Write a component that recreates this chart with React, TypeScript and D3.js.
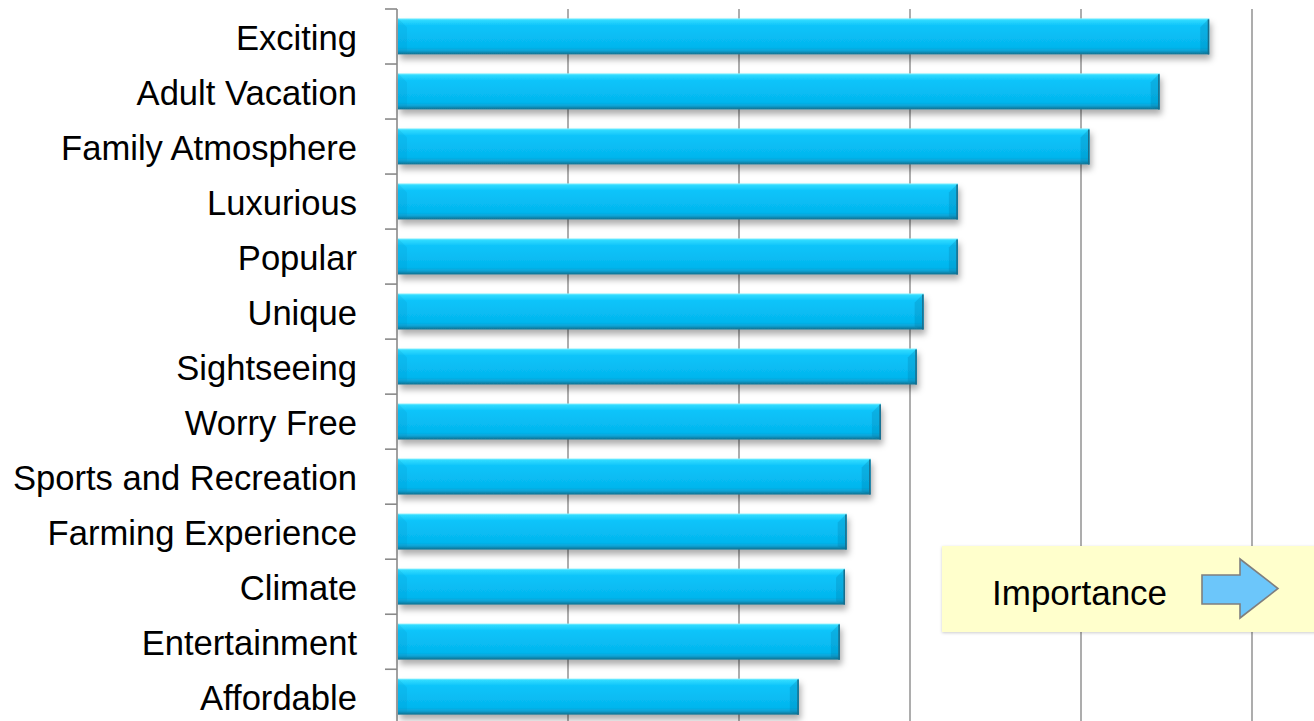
import React from "react";
import * as d3 from "d3";

const categories = [
  "Exciting",
  "Adult Vacation",
  "Family Atmosphere",
  "Luxurious",
  "Popular",
  "Unique",
  "Sightseeing",
  "Worry Free",
  "Sports and Recreation",
  "Farming Experience",
  "Climate",
  "Entertainment",
  "Affordable",
];
const values = [4.75, 4.46, 4.05, 3.28, 3.28, 3.08, 3.04, 2.83, 2.77, 2.63, 2.62, 2.59, 2.35];
const xTicks = [0, 1, 2, 3, 4, 5];
const boxLabel = "Importance";

const W = 1314;
const H = 721;

export default function App() {
  const x = d3.scaleLinear().domain([0, 5]).range([397, 1252]);
  const y = d3.scaleBand<string>().domain(categories).range([9, 724]).paddingInner(0.345).paddingOuter(0.17);
  const bandStep = y.step();
  const bw = y.bandwidth();
  const font = "'Liberation Sans', Arial, sans-serif";

  return (
    <svg width={W} height={H} style={{ position: "absolute", left: 0, top: 0, background: "#fff" }}>
      <defs>
        <linearGradient id="barGrad" x1="0" y1="0" x2="0" y2="1">
          <stop offset="0%" stopColor="#8AF2FF" />
          <stop offset="5%" stopColor="#30DAFF" />
          <stop offset="20%" stopColor="#0CC4FA" />
          <stop offset="80%" stopColor="#04B6EE" />
          <stop offset="90%" stopColor="#0AA2D4" />
          <stop offset="100%" stopColor="#146E8C" />
        </linearGradient>
        <filter id="shadow" x="-5%" y="-30%" width="110%" height="170%">
          <feDropShadow dx="2" dy="5" stdDeviation="3" floodColor="#000" floodOpacity="0.32" />
        </filter>
        <filter id="boxShadow" x="-5%" y="-10%" width="110%" height="130%">
          <feDropShadow dx="0" dy="1" stdDeviation="1.5" floodColor="#000" floodOpacity="0.2" />
        </filter>
      </defs>

      {/* gridlines */}
      {xTicks.slice(1).map((t) => (
        <line key={t} x1={x(t)} x2={x(t)} y1={9} y2={H} stroke="#8A8A8A" strokeWidth={1.4} />
      ))}

      {/* left axis */}
      <line x1={x(0)} x2={x(0)} y1={9} y2={H} stroke="#8A8A8A" strokeWidth={1.6} />
      {d3.range(categories.length + 1).map((i) => {
        const yy = 9 + i * bandStep;
        return <line key={i} x1={x(0) - 12} x2={x(0)} y1={yy} y2={yy} stroke="#8A8A8A" strokeWidth={1.6} />;
      })}

      {/* bars */}
      {categories.map((c, i) => {
        const x0 = x(0) + 1;
        const x1 = x(values[i]);
        const y0 = y(c)!;
        const y1 = y0 + bw;
        const b = 9;
        return (
          <g key={c}>
            <rect x={x0} y={y0} width={x1 - x0} height={bw} fill="url(#barGrad)" filter="url(#shadow)" />
            <polygon
              points={`${x0},${y0} ${x0 + b},${y0 + b} ${x0 + b},${y1 - 3} ${x0},${y1}`}
              fill="#0088B8"
              opacity={0.14}
            />
            <polygon
              points={`${x1},${y0} ${x1 - b},${y0 + b} ${x1 - b},${y1 - 3} ${x1},${y1}`}
              fill="#006C98"
              opacity={0.22}
            />
            <line x1={x1 - 0.8} x2={x1 - 0.8} y1={y0 + 1} y2={y1} stroke="#1A6C8A" strokeWidth={1.5} />
          </g>
        );
      })}

      {/* category labels */}
      {categories.map((c) => (
        <text
          key={c}
          x={357}
          y={y(c)! + bw / 2}
          dy="0.38em"
          textAnchor="end"
          fontFamily={font}
          fontSize={34.6}
          fill="#000"
        >
          {c}
        </text>
      ))}

      {/* Importance box */}
      <rect x={942} y={546} width={400} height={86} fill="#FFFFCC" filter="url(#boxShadow)" />
      <text x={992} y={605} fontFamily={font} fontSize={35} fill="#000">
        {boxLabel}
      </text>
      <polygon
        points="1202,575 1240,575 1240,559 1278,588.5 1240,618 1240,604 1202,604"
        fill="#6CC6FA"
        stroke="#7F7F7F"
        strokeWidth={1.6}
      />
    </svg>
  );
}
